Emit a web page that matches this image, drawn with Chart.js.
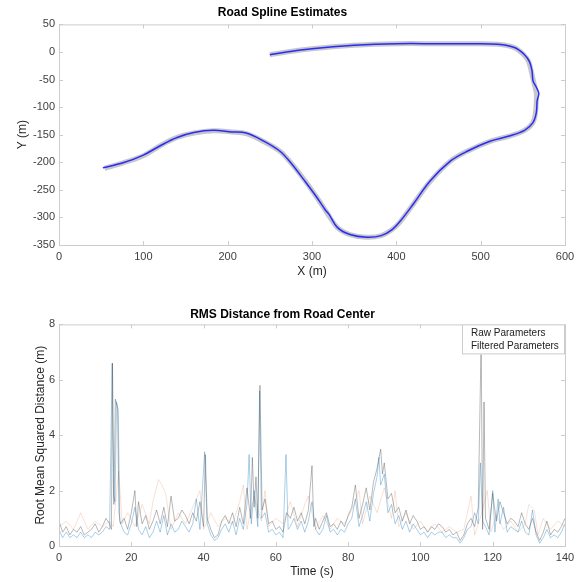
<!DOCTYPE html>
<html>
<head>
<meta charset="utf-8">
<script src="https://cdn.jsdelivr.net/npm/chart.js@4.4.1/dist/chart.umd.min.js"></script>
<style>
  html, body { margin: 0; padding: 0; background: #fff; }
  #wrap { position: relative; width: 585px; height: 582px; }
  .panel { position: absolute; left: 0; width: 585px; }
</style>
</head>
<body>
<div id="wrap">
  <div class="panel" style="top:0;height:290px"><canvas id="roadChart" width="585" height="290"></canvas></div>
  <div class="panel" style="top:290px;height:292px"><canvas id="rmsChart" width="585" height="292"></canvas></div>
</div>
<script>
// road centre (reference) and spline estimate, in metres
const roadX = [54, 76, 100, 120, 140, 160, 183, 205, 222, 242,
  262, 276, 290, 305, 318, 330, 345, 365, 382, 395,
  405, 420, 440, 464, 484, 511, 535, 552, 562, 565,
  566, 566, 563, 560, 557, 551, 540, 520, 490, 450,
  400, 350, 300, 270, 250];
const roadY = [-211, -201, -188, -170, -155, -147, -143, -145, -148, -162,
  -180, -203, -230, -262, -292, -318, -331, -336, -333, -322,
  -307, -276, -235, -198, -180, -162, -152, -142, -128, -110,
  -90, -75, -55, -35, -18, -5, 8, 14, 15, 15,
  15, 12, 6, 0, -5];

const estX = [52, 76, 100, 120, 140, 160, 183, 205, 222, 242,
  262, 276, 290, 305, 316, 320, 330, 345, 365, 382,
  395, 405, 420, 440, 464, 484, 511, 535, 552, 562,
  566, 567, 569, 566, 562, 561, 558, 552, 540, 520,
  490, 450, 400, 350, 300, 270, 250];
const estY = [-210, -201, -187, -170, -155, -146, -142, -145, -147, -161,
  -180, -203, -231, -262, -287, -294, -318, -331, -336, -333,
  -322, -306, -276, -234, -198, -180, -162, -152, -142, -128,
  -110, -88, -75, -64, -52, -35, -18, -5, 8, 14,
  15, 15, 15, 12, 6, 0, -5];

// RMS distance from road centre (m) over time (s)
const rawTime = [0, 1, 2, 3, 4, 5, 6, 7, 8, 9,
  10, 11, 12, 13, 14, 14.5, 14.8, 15.2, 15.6, 16.2,
  16.6, 17, 18, 19, 20, 21, 21.5, 22, 23, 24,
  25, 26, 27, 28, 29, 30, 31, 32, 33, 34,
  35, 36, 37, 38, 39, 40, 40.5, 41, 42, 43,
  44, 45, 46, 47, 48, 49, 50, 51, 52, 53,
  53.5, 54, 54.5, 55, 55.6, 56.2, 57, 58, 59, 60,
  61, 62, 63, 64, 65, 66, 67, 68, 69, 70,
  70.5, 71, 72, 73, 74, 75, 76, 77, 78, 79,
  80, 81, 82, 83, 84, 85, 86, 87, 88, 89,
  89.5, 90, 91, 92, 93, 94, 95, 96, 97, 98,
  99, 100, 101, 102, 103, 104, 105, 106, 107, 108,
  109, 110, 111, 112, 113, 114, 115, 116, 116.8, 117.2,
  117.6, 118, 119, 120, 121, 122, 123, 124, 125, 126,
  127, 128, 129, 130, 131, 132, 133, 134, 135, 136,
  137, 138, 139, 140];
const rawRms = [0.9, 0.5, 0.7, 0.4, 0.6, 0.5, 0.7, 0.4, 0.5, 0.6,
  0.8, 0.5, 0.7, 1.0, 0.8, 0.6, 6.6, 1.5, 5.3, 5.0,
  1.2, 0.8, 1.0, 0.6, 1.2, 2.0, 0.7, 1.6, 0.8, 1.1,
  0.6, 0.9, 1.3, 0.8, 1.4, 0.7, 1.8, 0.9, 1.0, 1.3,
  1.1, 0.8, 1.2, 0.9, 1.6, 0.7, 3.3, 1.0, 0.6, 0.3,
  0.4, 0.9, 1.1, 0.8, 1.2, 0.7, 1.4, 0.8, 2.1, 1.0,
  3.2, 1.4, 2.5, 1.0, 5.8, 1.3, 1.7, 0.8, 0.9, 0.6,
  0.7, 0.5, 1.2, 1.0, 1.4, 0.9, 1.2, 0.8, 1.3, 2.9,
  0.7, 1.0, 0.6, 0.9, 1.2, 0.7, 0.8, 0.6, 0.9, 0.7,
  1.1, 1.4, 2.2, 1.0, 1.5, 2.1, 1.3, 2.3, 2.8, 3.5,
  2.6, 3.0, 1.7, 1.9, 1.2, 1.4, 0.9, 1.3, 0.8, 1.1,
  0.9, 0.6, 0.7, 0.5, 0.7, 0.6, 0.8, 0.7, 0.5, 0.6,
  0.4, 0.5, 0.2, 0.4, 0.8, 1.0, 0.7, 1.4, 7.4, 0.6,
  5.2, 1.0, 0.6, 1.9, 0.9, 1.6, 1.2, 0.8, 1.0, 0.9,
  0.7, 1.2, 0.8, 0.6, 1.0, 0.5, 0.2, 0.5, 0.9, 0.4,
  0.6, 0.5, 0.7, 1.0];

const filtTime = [0, 1, 2, 3, 4, 5, 6, 7, 8, 9,
  10, 11, 12, 13, 14, 14.7, 15.1, 15.5, 15.9, 16.4,
  16.8, 18, 19, 20, 21, 22, 23, 24, 25, 26,
  27, 28, 29, 30, 31, 32, 33, 34, 35, 36,
  37, 38, 39, 40.3, 41, 42, 43, 44, 45, 46,
  47, 48, 49, 50, 51, 52, 52.6, 53.2, 54, 55,
  55.5, 56, 57, 58, 59, 60, 61, 62, 62.8, 63.4,
  64, 65, 66, 67, 68, 69, 70, 71, 72, 73,
  74, 75, 76, 77, 78, 79, 80, 81, 82, 83,
  84, 85, 86, 87, 88, 88.5, 89, 90, 91, 92,
  93, 94, 95, 96, 97, 98, 99, 100, 101, 102,
  103, 104, 105, 106, 107, 108, 109, 110, 111, 112,
  113, 114, 115, 116, 116.6, 117.2, 118, 119, 120, 120.6,
  121.5, 122, 123, 124, 125, 126, 127, 128, 129, 130,
  131, 132, 133, 134, 135, 136, 137, 138, 139, 140];
const filtRms = [0.6, 0.3, 0.5, 0.3, 0.4, 0.3, 0.5, 0.3, 0.4, 0.3,
  0.5, 0.4, 0.5, 0.7, 0.6, 6.6, 1.8, 1.6, 5.2, 4.9,
  0.9, 0.5, 0.4, 0.8, 1.4, 0.6, 0.4, 0.7, 0.3, 0.5,
  0.9, 0.5, 1.1, 0.4, 0.8, 0.5, 0.6, 0.9, 0.7, 0.5,
  0.8, 1.7, 0.6, 3.4, 0.8, 0.4, 0.2, 0.3, 0.6, 0.8,
  0.5, 0.9, 0.4, 1.0, 0.6, 1.5, 3.3, 0.8, 2.0, 0.7,
  5.6, 1.0, 1.2, 0.5, 0.6, 0.4, 0.5, 0.3, 3.3, 0.6,
  0.7, 1.0, 0.6, 0.9, 0.5, 0.9, 1.6, 0.6, 0.4, 0.6,
  1.1, 0.5, 0.6, 0.4, 0.6, 0.5, 0.8, 1.0, 1.7, 0.7,
  1.1, 1.6, 0.9, 1.9, 2.5, 3.2, 2.2, 2.6, 1.2, 1.5,
  0.8, 1.1, 0.6, 0.9, 0.5, 0.8, 0.6, 0.4, 0.5, 0.3,
  0.5, 0.4, 0.5, 0.5, 0.3, 0.4, 0.3, 0.3, 0.1, 0.3,
  0.6, 0.7, 1.2, 0.8, 3.0, 0.9, 0.7, 0.4, 2.0, 0.5,
  1.7, 0.8, 1.4, 0.5, 0.7, 0.6, 0.5, 0.9, 0.5, 0.4,
  1.3, 0.4, 0.1, 0.3, 0.6, 0.3, 0.4, 0.3, 0.5, 0.8];

const otherTime = [0, 2, 4, 6, 8, 10, 12, 14, 15, 16.5,
  17.5, 19, 21, 23, 25, 26, 27.5, 28.5, 29.5, 31,
  33, 35, 37, 39, 40, 42, 44, 46, 48, 50,
  51, 52, 54, 56, 57, 58, 60, 62, 64, 66,
  68, 69, 71, 73, 75, 77, 79, 81, 83, 84,
  86, 88, 90, 92, 93, 94, 96, 98, 100, 102,
  104, 106, 108, 110, 112, 114, 115, 117, 118.5, 119.5,
  121, 123, 125, 127, 129, 130, 131.5, 132.5, 134, 136,
  138, 140];
const otherRms = [0.7, 0.9, 0.6, 1.2, 0.6, 0.9, 0.7, 0.9, 0.7, 2.7,
  0.8, 1.2, 0.7, 1.5, 0.8, 1.6, 2.4, 2.2, 1.9, 0.6,
  1.2, 0.8, 1.4, 2.0, 0.6, 1.2, 0.7, 1.0, 0.8, 1.6,
  2.2, 0.6, 1.8, 0.9, 2.0, 0.7, 1.0, 0.8, 1.6, 0.7,
  1.5, 1.8, 0.6, 1.1, 0.6, 1.0, 0.8, 1.3, 2.0, 0.8,
  1.8, 1.2, 2.1, 1.0, 2.0, 0.7, 1.2, 0.6, 0.9, 0.5,
  0.8, 0.5, 0.7, 0.5, 0.6, 1.8, 0.4, 1.2, 2.0, 0.5,
  1.1, 0.6, 0.9, 0.5, 0.8, 1.5, 1.3, 0.4, 1.0, 0.6,
  0.9, 0.7];

const legendNames = ["Raw Parameters", "Filtered Parameters"];

const FONT = "'Liberation Sans', Arial, Helvetica, sans-serif";
const TICK_COLOR = "#404040";
const BOX_COLOR = "#cccccc";

function toPoints(xs, ys) {
  return xs.map((x, i) => ({ x: x, y: ys[i] }));
}

// matlab-style box around the axes with small inward ticks
const axesBox = {
  id: "axesBox",
  afterDatasetsDraw(chart) {
    const { ctx, chartArea: a, scales } = chart;
    ctx.save();
    ctx.strokeStyle = BOX_COLOR;
    ctx.lineWidth = 1;
    ctx.strokeRect(a.left + 0.5, a.top + 0.5, a.right - a.left, a.bottom - a.top);
    ctx.beginPath();
    scales.x.ticks.forEach((t) => {
      const px = Math.round(scales.x.getPixelForValue(t.value)) + 0.5;
      ctx.moveTo(px, a.bottom); ctx.lineTo(px, a.bottom - 4);
      ctx.moveTo(px, a.top); ctx.lineTo(px, a.top + 4);
    });
    scales.y.ticks.forEach((t) => {
      const py = Math.round(scales.y.getPixelForValue(t.value)) + 0.5;
      ctx.moveTo(a.left, py); ctx.lineTo(a.left + 4, py);
      ctx.moveTo(a.right, py); ctx.lineTo(a.right - 4, py);
    });
    ctx.stroke();
    ctx.restore();
  }
};

// legend box in the upper right corner of the axes
const cornerLegend = {
  id: "cornerLegend",
  afterDraw(chart) {
    const { ctx, chartArea: a } = chart;
    const w = 103, h = 30;
    const x0 = a.right - w, y0 = a.top;
    ctx.save();
    ctx.fillStyle = "#fff";
    ctx.fillRect(x0, y0, w, h);
    ctx.strokeStyle = BOX_COLOR;
    ctx.strokeRect(x0 + 0.5, y0 + 0.5, w - 1, h - 1);
    ctx.fillStyle = "#222";
    ctx.font = "10px " + FONT;
    ctx.textBaseline = "middle";
    legendNames.forEach((name, i) => {
      ctx.fillText(name, x0 + 9, y0 + 9 + i * 12.5);
    });
    ctx.restore();
  }
};

function axis(min, max, step, titleText, isX, fit, titlePad) {
  return {
    type: "linear",
    min: min,
    max: max,
    grid: { display: false, drawTicks: false },
    border: { display: false },
    ticks: {
      stepSize: step,
      color: TICK_COLOR,
      padding: isX ? 5 : 4,
      font: { family: FONT, size: 11 },
      maxRotation: 0,
      autoSkip: false
    },
    title: {
      display: true,
      text: titleText,
      color: "#262626",
      font: { family: FONT, size: 12 },
      padding: titlePad
    },
    afterFit: (scale) => {
      if (isX) scale.height = fit; else scale.width = fit;
    }
  };
}

new Chart(document.getElementById("roadChart"), {
  type: "scatter",
  data: {
    datasets: [
      {
        label: "Spline Estimate",
        data: toPoints(estX, estY),
        showLine: true,
        borderColor: "rgba(25,25,255,0.9)",
        borderWidth: 1.5,
        pointRadius: 0,
        tension: 0.35
      },
      {
        label: "Road",
        data: toPoints(roadX, roadY),
        showLine: true,
        borderColor: "rgba(130,130,130,0.45)",
        borderWidth: 5,
        pointRadius: 0,
        tension: 0.35
      }
    ]
  },
  options: {
    responsive: false,
    animation: false,
    layout: { padding: { left: 0, right: 20, top: 0, bottom: 0 } },
    plugins: {
      legend: { display: false },
      tooltip: { enabled: false },
      title: {
        display: true,
        text: "Road Spline Estimates",
        color: "#000",
        font: { family: FONT, size: 12, weight: "bold" },
        padding: { top: 5, bottom: 5 }
      }
    },
    scales: {
      x: axis(0, 600, 100, "X (m)", true, 45, { top: 0, bottom: 11 }),
      y: axis(-350, 50, 50, "Y (m)", false, 59, { top: 15, bottom: 0 })
    }
  },
  plugins: [axesBox]
});

new Chart(document.getElementById("rmsChart"), {
  type: "scatter",
  data: {
    datasets: [
      {
        label: legendNames[0],
        data: toPoints(rawTime, rawRms),
        showLine: true,
        borderColor: "rgba(70,70,70,0.42)",
        borderWidth: 0.9,
        pointRadius: 0,
        tension: 0
      },
      {
        label: legendNames[1],
        data: toPoints(filtTime, filtRms),
        showLine: true,
        borderColor: "rgba(0,114,189,0.38)",
        borderWidth: 0.9,
        pointRadius: 0,
        tension: 0
      },
      {
        label: "Other",
        data: toPoints(otherTime, otherRms),
        showLine: true,
        borderColor: "rgba(217,83,25,0.2)",
        borderWidth: 0.9,
        pointRadius: 0,
        tension: 0
      }
    ]
  },
  options: {
    responsive: false,
    animation: false,
    layout: { padding: { left: 0, right: 20, top: 0, bottom: 0 } },
    plugins: {
      legend: { display: false },
      tooltip: { enabled: false },
      title: {
        display: true,
        text: "RMS Distance from Road Center",
        color: "#000",
        font: { family: FONT, size: 12, weight: "bold" },
        padding: { top: 17, bottom: 3 }
      }
    },
    scales: {
      x: axis(0, 140, 20, "Time (s)", true, 36, { top: 0, bottom: 3 }),
      y: axis(0, 8, 2, "Root Mean Squared Distance (m)", false, 59, { top: 33, bottom: 0 })
    }
  },
  plugins: [axesBox, cornerLegend]
});
</script>
</body>
</html>
